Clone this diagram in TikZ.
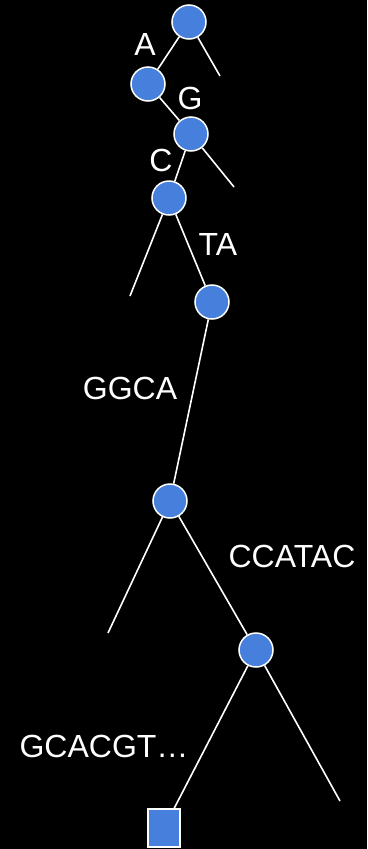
\documentclass[tikz,border=0pt]{standalone}
\usepackage{fontspec}
\setmainfont{Liberation Sans}
\begin{document}
\begin{tikzpicture}[x=1pt,y=-1pt,
  vert/.style={circle,draw=white,line width=1.5pt,fill=nodeblue,minimum size=34pt,inner sep=0pt},
  leafbox/.style={rectangle,draw=white,line width=1.5pt,fill=nodeblue,minimum width=32pt,minimum height=38pt,inner sep=0pt},
  edge/.style={draw=white,line width=1.6pt},
  lbl/.style={text=white,font=\fontsize{32}{35}\selectfont,inner sep=0pt}]
\definecolor{nodeblue}{RGB}{70,127,220}
\fill[black] (0,0) rectangle (367,849);
\useasboundingbox (0,0) rectangle (367,849);
% dangling branch ends
\coordinate (e1) at (220,76);
\coordinate (e3) at (234,187);
\coordinate (e4) at (130,296);
\coordinate (e6) at (108,633);
\coordinate (e7) at (340,801);
% vertices
\node[vert] (n1) at (189,22) {};
\node[vert] (n2) at (148,84) {};
\node[vert] (n3) at (191,134) {};
\node[vert] (n4) at (169,198) {};
\node[vert] (n5) at (212,302) {};
\node[vert] (n6) at (170,501) {};
\node[vert] (n7) at (256,650) {};
\node[leafbox] (sq) at (164,828) {};
% edges
\draw[edge] (n1) -- (n2);
\draw[edge] (n1) -- (e1);
\draw[edge] (n2) -- (n3);
\draw[edge] (n3) -- (n4);
\draw[edge] (n3) -- (e3);
\draw[edge] (n4) -- (n5);
\draw[edge] (n4) -- (e4);
\draw[edge] (n5) -- (n6);
\draw[edge] (n6) -- (n7);
\draw[edge] (n6) -- (e6);
\draw[edge] (n7) -- (sq);
\draw[edge] (n7) -- (e7);
% edge labels
\node[lbl] (la) at (145,44) {A};
\node[lbl] (lg) at (190,98) {G};
\node[lbl] (lc) at (161,160) {C};
\node[lbl] (lta) at (218,244) {TA};
\node[lbl] (lggca) at (130,388) {GGCA};
\node[lbl] (lccatac) at (292,556) {CCATAC};
\node[lbl] (lgc) at (104,746) {GCACGT…};
\end{tikzpicture}
\end{document}
